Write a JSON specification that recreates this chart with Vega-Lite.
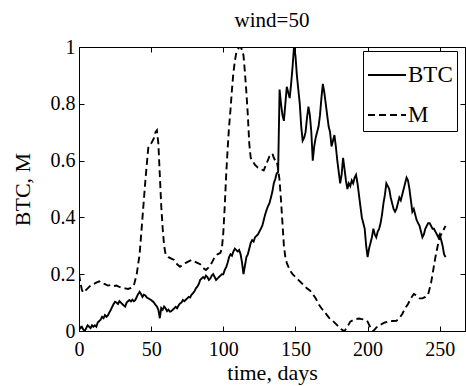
{
  "$schema": "https://vega.github.io/schema/vega-lite/v6.json",
  "width": 386,
  "height": 284,
  "autosize": {"type": "none"},
  "padding": {"left": 79, "top": 47, "right": 1, "bottom": 55},
  "background": "white",
  "title": {"text": "wind=50"},
  "config": {
    "font": "'Liberation Serif', 'Times New Roman', 'DejaVu Serif', serif",
    "title": {"font": "'Liberation Serif', 'Times New Roman', 'DejaVu Serif', serif", "fontSize": 21, "fontWeight": "normal", "color": "black", "offset": 6},
    "view": {"stroke": "black", "strokeWidth": 1},
    "axis": {"labelFont": "'Liberation Serif', 'Times New Roman', 'DejaVu Serif', serif", "labelFontSize": 20, "labelColor": "black", "titleFont": "'Liberation Serif', 'Times New Roman', 'DejaVu Serif', serif", "titleFontSize": 22, "titleFontWeight": "normal", "titleColor": "black", "domainColor": "black", "tickColor": "black", "grid": false},
    "legend": {"labelFont": "'Liberation Serif', 'Times New Roman', 'DejaVu Serif', serif"}
  },
  "data": {"values": [
    {"t":0,"v":0.02,"s":"BTC"},{"t":1,"v":0.01,"s":"BTC"},{"t":2,"v":0.015,"s":"BTC"},{"t":3,"v":0.005,"s":"BTC"},{"t":4,"v":0.0,"s":"BTC"},{"t":5,"v":0.01,"s":"BTC"},{"t":6,"v":0.02,"s":"BTC"},{"t":7,"v":0.015,"s":"BTC"},{"t":8,"v":0.01,"s":"BTC"},{"t":9,"v":0.02,"s":"BTC"},{"t":10,"v":0.015,"s":"BTC"},{"t":11,"v":0.02,"s":"BTC"},{"t":12,"v":0.015,"s":"BTC"},{"t":13,"v":0.03,"s":"BTC"},{"t":14,"v":0.035,"s":"BTC"},{"t":15,"v":0.04,"s":"BTC"},{"t":16,"v":0.05,"s":"BTC"},{"t":17,"v":0.045,"s":"BTC"},{"t":18,"v":0.056,"s":"BTC"},{"t":19,"v":0.05,"s":"BTC"},{"t":20,"v":0.055,"s":"BTC"},{"t":21,"v":0.065,"s":"BTC"},{"t":22,"v":0.074,"s":"BTC"},{"t":23,"v":0.085,"s":"BTC"},{"t":24,"v":0.095,"s":"BTC"},{"t":25,"v":0.103,"s":"BTC"},{"t":26,"v":0.1,"s":"BTC"},{"t":27,"v":0.095,"s":"BTC"},{"t":28,"v":0.105,"s":"BTC"},{"t":29,"v":0.1,"s":"BTC"},{"t":30,"v":0.095,"s":"BTC"},{"t":31,"v":0.09,"s":"BTC"},{"t":32,"v":0.086,"s":"BTC"},{"t":33,"v":0.1,"s":"BTC"},{"t":34,"v":0.105,"s":"BTC"},{"t":35,"v":0.109,"s":"BTC"},{"t":36,"v":0.104,"s":"BTC"},{"t":37,"v":0.11,"s":"BTC"},{"t":38,"v":0.105,"s":"BTC"},{"t":39,"v":0.109,"s":"BTC"},{"t":40,"v":0.12,"s":"BTC"},{"t":41,"v":0.13,"s":"BTC"},{"t":42,"v":0.138,"s":"BTC"},{"t":43,"v":0.13,"s":"BTC"},{"t":44,"v":0.12,"s":"BTC"},{"t":45,"v":0.128,"s":"BTC"},{"t":46,"v":0.125,"s":"BTC"},{"t":47,"v":0.118,"s":"BTC"},{"t":48,"v":0.115,"s":"BTC"},{"t":49,"v":0.112,"s":"BTC"},{"t":50,"v":0.109,"s":"BTC"},{"t":51,"v":0.105,"s":"BTC"},{"t":52,"v":0.1,"s":"BTC"},{"t":53,"v":0.092,"s":"BTC"},{"t":54,"v":0.086,"s":"BTC"},{"t":55,"v":0.075,"s":"BTC"},{"t":56,"v":0.045,"s":"BTC"},{"t":57,"v":0.081,"s":"BTC"},{"t":58,"v":0.075,"s":"BTC"},{"t":59,"v":0.086,"s":"BTC"},{"t":60,"v":0.08,"s":"BTC"},{"t":61,"v":0.07,"s":"BTC"},{"t":62,"v":0.075,"s":"BTC"},{"t":63,"v":0.068,"s":"BTC"},{"t":64,"v":0.07,"s":"BTC"},{"t":65,"v":0.075,"s":"BTC"},{"t":66,"v":0.08,"s":"BTC"},{"t":67,"v":0.085,"s":"BTC"},{"t":68,"v":0.08,"s":"BTC"},{"t":69,"v":0.09,"s":"BTC"},{"t":70,"v":0.097,"s":"BTC"},{"t":71,"v":0.1,"s":"BTC"},{"t":72,"v":0.109,"s":"BTC"},{"t":73,"v":0.105,"s":"BTC"},{"t":74,"v":0.11,"s":"BTC"},{"t":75,"v":0.115,"s":"BTC"},{"t":76,"v":0.12,"s":"BTC"},{"t":77,"v":0.118,"s":"BTC"},{"t":78,"v":0.128,"s":"BTC"},{"t":79,"v":0.133,"s":"BTC"},{"t":80,"v":0.14,"s":"BTC"},{"t":81,"v":0.15,"s":"BTC"},{"t":82,"v":0.156,"s":"BTC"},{"t":83,"v":0.165,"s":"BTC"},{"t":84,"v":0.18,"s":"BTC"},{"t":85,"v":0.185,"s":"BTC"},{"t":86,"v":0.19,"s":"BTC"},{"t":87,"v":0.185,"s":"BTC"},{"t":88,"v":0.195,"s":"BTC"},{"t":89,"v":0.19,"s":"BTC"},{"t":90,"v":0.18,"s":"BTC"},{"t":91,"v":0.185,"s":"BTC"},{"t":92,"v":0.195,"s":"BTC"},{"t":93,"v":0.2,"s":"BTC"},{"t":94,"v":0.19,"s":"BTC"},{"t":95,"v":0.18,"s":"BTC"},{"t":96,"v":0.185,"s":"BTC"},{"t":97,"v":0.19,"s":"BTC"},{"t":98,"v":0.195,"s":"BTC"},{"t":99,"v":0.2,"s":"BTC"},{"t":100,"v":0.2,"s":"BTC"},{"t":101,"v":0.215,"s":"BTC"},{"t":102,"v":0.225,"s":"BTC"},{"t":103,"v":0.24,"s":"BTC"},{"t":104,"v":0.26,"s":"BTC"},{"t":105,"v":0.27,"s":"BTC"},{"t":106,"v":0.265,"s":"BTC"},{"t":107,"v":0.28,"s":"BTC"},{"t":108,"v":0.29,"s":"BTC"},{"t":109,"v":0.285,"s":"BTC"},{"t":110,"v":0.28,"s":"BTC"},{"t":111,"v":0.285,"s":"BTC"},{"t":112,"v":0.27,"s":"BTC"},{"t":113,"v":0.24,"s":"BTC"},{"t":114,"v":0.2,"s":"BTC"},{"t":115,"v":0.23,"s":"BTC"},{"t":116,"v":0.26,"s":"BTC"},{"t":117,"v":0.27,"s":"BTC"},{"t":118,"v":0.29,"s":"BTC"},{"t":119,"v":0.31,"s":"BTC"},{"t":120,"v":0.32,"s":"BTC"},{"t":121,"v":0.315,"s":"BTC"},{"t":122,"v":0.33,"s":"BTC"},{"t":123,"v":0.335,"s":"BTC"},{"t":124,"v":0.34,"s":"BTC"},{"t":125,"v":0.35,"s":"BTC"},{"t":126,"v":0.36,"s":"BTC"},{"t":127,"v":0.37,"s":"BTC"},{"t":128,"v":0.39,"s":"BTC"},{"t":129,"v":0.41,"s":"BTC"},{"t":130,"v":0.426,"s":"BTC"},{"t":131,"v":0.44,"s":"BTC"},{"t":132,"v":0.45,"s":"BTC"},{"t":133,"v":0.47,"s":"BTC"},{"t":134,"v":0.49,"s":"BTC"},{"t":135,"v":0.52,"s":"BTC"},{"t":136,"v":0.535,"s":"BTC"},{"t":137,"v":0.555,"s":"BTC"},{"t":138,"v":0.56,"s":"BTC"},{"t":139,"v":0.85,"s":"BTC"},{"t":140,"v":0.8,"s":"BTC"},{"t":141,"v":0.76,"s":"BTC"},{"t":142,"v":0.74,"s":"BTC"},{"t":143,"v":0.8,"s":"BTC"},{"t":144,"v":0.86,"s":"BTC"},{"t":145,"v":0.84,"s":"BTC"},{"t":146,"v":0.82,"s":"BTC"},{"t":147,"v":0.87,"s":"BTC"},{"t":148,"v":0.93,"s":"BTC"},{"t":149,"v":1.0,"s":"BTC"},{"t":150,"v":0.97,"s":"BTC"},{"t":151,"v":0.9,"s":"BTC"},{"t":152,"v":0.85,"s":"BTC"},{"t":153,"v":0.8,"s":"BTC"},{"t":154,"v":0.72,"s":"BTC"},{"t":155,"v":0.67,"s":"BTC"},{"t":156,"v":0.68,"s":"BTC"},{"t":157,"v":0.7,"s":"BTC"},{"t":158,"v":0.75,"s":"BTC"},{"t":159,"v":0.79,"s":"BTC"},{"t":160,"v":0.76,"s":"BTC"},{"t":161,"v":0.7,"s":"BTC"},{"t":162,"v":0.6,"s":"BTC"},{"t":163,"v":0.65,"s":"BTC"},{"t":164,"v":0.68,"s":"BTC"},{"t":165,"v":0.7,"s":"BTC"},{"t":166,"v":0.72,"s":"BTC"},{"t":167,"v":0.76,"s":"BTC"},{"t":168,"v":0.82,"s":"BTC"},{"t":169,"v":0.87,"s":"BTC"},{"t":170,"v":0.84,"s":"BTC"},{"t":171,"v":0.8,"s":"BTC"},{"t":172,"v":0.76,"s":"BTC"},{"t":173,"v":0.72,"s":"BTC"},{"t":174,"v":0.7,"s":"BTC"},{"t":175,"v":0.65,"s":"BTC"},{"t":176,"v":0.67,"s":"BTC"},{"t":177,"v":0.69,"s":"BTC"},{"t":178,"v":0.65,"s":"BTC"},{"t":179,"v":0.6,"s":"BTC"},{"t":180,"v":0.56,"s":"BTC"},{"t":181,"v":0.52,"s":"BTC"},{"t":182,"v":0.55,"s":"BTC"},{"t":183,"v":0.61,"s":"BTC"},{"t":184,"v":0.57,"s":"BTC"},{"t":185,"v":0.53,"s":"BTC"},{"t":186,"v":0.5,"s":"BTC"},{"t":187,"v":0.52,"s":"BTC"},{"t":188,"v":0.51,"s":"BTC"},{"t":189,"v":0.53,"s":"BTC"},{"t":190,"v":0.52,"s":"BTC"},{"t":191,"v":0.54,"s":"BTC"},{"t":192,"v":0.55,"s":"BTC"},{"t":193,"v":0.52,"s":"BTC"},{"t":194,"v":0.48,"s":"BTC"},{"t":195,"v":0.44,"s":"BTC"},{"t":196,"v":0.4,"s":"BTC"},{"t":197,"v":0.38,"s":"BTC"},{"t":198,"v":0.36,"s":"BTC"},{"t":199,"v":0.3,"s":"BTC"},{"t":200,"v":0.26,"s":"BTC"},{"t":201,"v":0.29,"s":"BTC"},{"t":202,"v":0.31,"s":"BTC"},{"t":203,"v":0.33,"s":"BTC"},{"t":204,"v":0.36,"s":"BTC"},{"t":205,"v":0.34,"s":"BTC"},{"t":206,"v":0.33,"s":"BTC"},{"t":207,"v":0.35,"s":"BTC"},{"t":208,"v":0.36,"s":"BTC"},{"t":209,"v":0.38,"s":"BTC"},{"t":210,"v":0.41,"s":"BTC"},{"t":211,"v":0.45,"s":"BTC"},{"t":212,"v":0.48,"s":"BTC"},{"t":213,"v":0.52,"s":"BTC"},{"t":214,"v":0.51,"s":"BTC"},{"t":215,"v":0.5,"s":"BTC"},{"t":216,"v":0.47,"s":"BTC"},{"t":217,"v":0.45,"s":"BTC"},{"t":218,"v":0.43,"s":"BTC"},{"t":219,"v":0.42,"s":"BTC"},{"t":220,"v":0.43,"s":"BTC"},{"t":221,"v":0.45,"s":"BTC"},{"t":222,"v":0.47,"s":"BTC"},{"t":223,"v":0.46,"s":"BTC"},{"t":224,"v":0.48,"s":"BTC"},{"t":225,"v":0.5,"s":"BTC"},{"t":226,"v":0.52,"s":"BTC"},{"t":227,"v":0.54,"s":"BTC"},{"t":228,"v":0.53,"s":"BTC"},{"t":229,"v":0.5,"s":"BTC"},{"t":230,"v":0.46,"s":"BTC"},{"t":231,"v":0.42,"s":"BTC"},{"t":232,"v":0.43,"s":"BTC"},{"t":233,"v":0.41,"s":"BTC"},{"t":234,"v":0.39,"s":"BTC"},{"t":235,"v":0.38,"s":"BTC"},{"t":236,"v":0.37,"s":"BTC"},{"t":237,"v":0.35,"s":"BTC"},{"t":238,"v":0.33,"s":"BTC"},{"t":239,"v":0.34,"s":"BTC"},{"t":240,"v":0.36,"s":"BTC"},{"t":241,"v":0.37,"s":"BTC"},{"t":242,"v":0.38,"s":"BTC"},{"t":243,"v":0.38,"s":"BTC"},{"t":244,"v":0.37,"s":"BTC"},{"t":245,"v":0.36,"s":"BTC"},{"t":246,"v":0.36,"s":"BTC"},{"t":247,"v":0.35,"s":"BTC"},{"t":248,"v":0.34,"s":"BTC"},{"t":249,"v":0.33,"s":"BTC"},{"t":250,"v":0.34,"s":"BTC"},{"t":251,"v":0.32,"s":"BTC"},{"t":252,"v":0.3,"s":"BTC"},{"t":253,"v":0.27,"s":"BTC"},{"t":254,"v":0.26,"s":"BTC"},
    {"t":0,"v":0.2,"s":"M"},{"t":1,"v":0.17,"s":"M"},{"t":2,"v":0.145,"s":"M"},{"t":3,"v":0.135,"s":"M"},{"t":4,"v":0.14,"s":"M"},{"t":6,"v":0.15,"s":"M"},{"t":8,"v":0.16,"s":"M"},{"t":10,"v":0.165,"s":"M"},{"t":12,"v":0.17,"s":"M"},{"t":14,"v":0.175,"s":"M"},{"t":16,"v":0.168,"s":"M"},{"t":18,"v":0.165,"s":"M"},{"t":20,"v":0.16,"s":"M"},{"t":22,"v":0.162,"s":"M"},{"t":24,"v":0.158,"s":"M"},{"t":26,"v":0.16,"s":"M"},{"t":28,"v":0.155,"s":"M"},{"t":30,"v":0.152,"s":"M"},{"t":32,"v":0.15,"s":"M"},{"t":34,"v":0.148,"s":"M"},{"t":36,"v":0.152,"s":"M"},{"t":38,"v":0.16,"s":"M"},{"t":40,"v":0.2,"s":"M"},{"t":42,"v":0.27,"s":"M"},{"t":44,"v":0.4,"s":"M"},{"t":46,"v":0.53,"s":"M"},{"t":48,"v":0.645,"s":"M"},{"t":50,"v":0.66,"s":"M"},{"t":52,"v":0.68,"s":"M"},{"t":53,"v":0.7,"s":"M"},{"t":54,"v":0.707,"s":"M"},{"t":55,"v":0.66,"s":"M"},{"t":56,"v":0.55,"s":"M"},{"t":57,"v":0.44,"s":"M"},{"t":58,"v":0.36,"s":"M"},{"t":59,"v":0.3,"s":"M"},{"t":60,"v":0.27,"s":"M"},{"t":62,"v":0.26,"s":"M"},{"t":64,"v":0.255,"s":"M"},{"t":66,"v":0.25,"s":"M"},{"t":68,"v":0.235,"s":"M"},{"t":70,"v":0.226,"s":"M"},{"t":72,"v":0.235,"s":"M"},{"t":74,"v":0.24,"s":"M"},{"t":76,"v":0.245,"s":"M"},{"t":78,"v":0.25,"s":"M"},{"t":80,"v":0.245,"s":"M"},{"t":82,"v":0.24,"s":"M"},{"t":84,"v":0.235,"s":"M"},{"t":86,"v":0.222,"s":"M"},{"t":88,"v":0.215,"s":"M"},{"t":90,"v":0.225,"s":"M"},{"t":92,"v":0.24,"s":"M"},{"t":94,"v":0.26,"s":"M"},{"t":96,"v":0.27,"s":"M"},{"t":98,"v":0.275,"s":"M"},{"t":99,"v":0.29,"s":"M"},{"t":100,"v":0.345,"s":"M"},{"t":101,"v":0.44,"s":"M"},{"t":102,"v":0.55,"s":"M"},{"t":103,"v":0.64,"s":"M"},{"t":104,"v":0.72,"s":"M"},{"t":105,"v":0.78,"s":"M"},{"t":106,"v":0.85,"s":"M"},{"t":107,"v":0.91,"s":"M"},{"t":108,"v":0.95,"s":"M"},{"t":109,"v":0.98,"s":"M"},{"t":110,"v":0.99,"s":"M"},{"t":111,"v":1.0,"s":"M"},{"t":112,"v":1.0,"s":"M"},{"t":113,"v":0.99,"s":"M"},{"t":114,"v":0.97,"s":"M"},{"t":115,"v":0.91,"s":"M"},{"t":116,"v":0.84,"s":"M"},{"t":117,"v":0.76,"s":"M"},{"t":118,"v":0.66,"s":"M"},{"t":119,"v":0.61,"s":"M"},{"t":120,"v":0.6,"s":"M"},{"t":122,"v":0.585,"s":"M"},{"t":124,"v":0.575,"s":"M"},{"t":126,"v":0.57,"s":"M"},{"t":128,"v":0.565,"s":"M"},{"t":130,"v":0.59,"s":"M"},{"t":132,"v":0.615,"s":"M"},{"t":134,"v":0.625,"s":"M"},{"t":135,"v":0.61,"s":"M"},{"t":136,"v":0.6,"s":"M"},{"t":137,"v":0.6,"s":"M"},{"t":138,"v":0.57,"s":"M"},{"t":139,"v":0.53,"s":"M"},{"t":140,"v":0.46,"s":"M"},{"t":141,"v":0.38,"s":"M"},{"t":142,"v":0.3,"s":"M"},{"t":143,"v":0.26,"s":"M"},{"t":144,"v":0.24,"s":"M"},{"t":146,"v":0.215,"s":"M"},{"t":148,"v":0.2,"s":"M"},{"t":150,"v":0.19,"s":"M"},{"t":152,"v":0.18,"s":"M"},{"t":154,"v":0.17,"s":"M"},{"t":156,"v":0.16,"s":"M"},{"t":158,"v":0.15,"s":"M"},{"t":160,"v":0.143,"s":"M"},{"t":162,"v":0.13,"s":"M"},{"t":164,"v":0.115,"s":"M"},{"t":166,"v":0.095,"s":"M"},{"t":168,"v":0.08,"s":"M"},{"t":170,"v":0.068,"s":"M"},{"t":172,"v":0.055,"s":"M"},{"t":174,"v":0.042,"s":"M"},{"t":176,"v":0.035,"s":"M"},{"t":178,"v":0.025,"s":"M"},{"t":180,"v":0.015,"s":"M"},{"t":182,"v":0.005,"s":"M"},{"t":184,"v":0.0,"s":"M"},{"t":186,"v":0.015,"s":"M"},{"t":188,"v":0.033,"s":"M"},{"t":190,"v":0.038,"s":"M"},{"t":192,"v":0.042,"s":"M"},{"t":194,"v":0.044,"s":"M"},{"t":196,"v":0.042,"s":"M"},{"t":198,"v":0.04,"s":"M"},{"t":200,"v":0.033,"s":"M"},{"t":202,"v":0.012,"s":"M"},{"t":204,"v":0.0,"s":"M"},{"t":206,"v":0.012,"s":"M"},{"t":208,"v":0.02,"s":"M"},{"t":210,"v":0.025,"s":"M"},{"t":212,"v":0.03,"s":"M"},{"t":214,"v":0.033,"s":"M"},{"t":216,"v":0.035,"s":"M"},{"t":218,"v":0.035,"s":"M"},{"t":220,"v":0.036,"s":"M"},{"t":222,"v":0.045,"s":"M"},{"t":224,"v":0.06,"s":"M"},{"t":226,"v":0.08,"s":"M"},{"t":228,"v":0.095,"s":"M"},{"t":230,"v":0.115,"s":"M"},{"t":232,"v":0.13,"s":"M"},{"t":234,"v":0.125,"s":"M"},{"t":236,"v":0.115,"s":"M"},{"t":238,"v":0.115,"s":"M"},{"t":240,"v":0.12,"s":"M"},{"t":242,"v":0.13,"s":"M"},{"t":243,"v":0.15,"s":"M"},{"t":244,"v":0.17,"s":"M"},{"t":245,"v":0.2,"s":"M"},{"t":246,"v":0.23,"s":"M"},{"t":247,"v":0.26,"s":"M"},{"t":248,"v":0.285,"s":"M"},{"t":249,"v":0.31,"s":"M"},{"t":250,"v":0.33,"s":"M"},{"t":252,"v":0.35,"s":"M"},{"t":254,"v":0.37,"s":"M"}
  ]},
  "layer": [
    {
      "mark": {"type": "line", "color": "black", "strokeWidth": 1.9, "clip": true},
      "encoding": {
        "x": {"field": "t", "type": "quantitative", "scale": {"domain": [0, 267.5], "nice": false, "zero": false},
              "axis": {"orient": "bottom", "title": "time, days", "values": [0, 50, 100, 150, 200, 250], "format": "d", "tickSize": -5, "labelPadding": 13, "titlePadding": 3, "labelFlush": false}},
        "y": {"field": "v", "type": "quantitative", "scale": {"domain": [0, 1], "nice": false},
              "axis": {"orient": "left", "title": "BTC, M", "values": [0, 0.2, 0.4, 0.6, 0.8, 1], "format": "~g", "tickSize": -5, "labelPadding": 9, "titlePadding": 16, "labelFlush": false}},
        "strokeDash": {"field": "s", "type": "nominal",
              "scale": {"domain": ["BTC", "M"], "range": [[1, 0], [7, 4]]},
              "legend": {"title": null, "orient": "none", "legendX": 284, "legendY": 4, "strokeColor": "black", "fillColor": "white", "padding": 4, "symbolType": "stroke", "symbolSize": 1444, "symbolStrokeWidth": 1.9, "symbolStrokeColor": "black", "labelFont": "'Liberation Serif', 'Times New Roman', 'DejaVu Serif', serif", "labelFontSize": 23, "labelColor": "black", "labelOffset": 1, "rowPadding": 8}}
      }
    },
    {
      "mark": {"type": "line", "opacity": 0, "strokeOpacity": 0},
      "encoding": {
        "x": {"field": "t", "type": "quantitative", "axis": {"orient": "top", "title": null, "labels": false, "domain": false, "values": [0, 50, 100, 150, 200, 250], "tickSize": -5}},
        "y": {"field": "v", "type": "quantitative", "axis": {"orient": "right", "title": null, "labels": false, "domain": false, "values": [0, 0.2, 0.4, 0.6, 0.8, 1], "tickSize": -5}}
      }
    }
  ],
  "resolve": {"axis": {"x": "independent", "y": "independent"}}
}
